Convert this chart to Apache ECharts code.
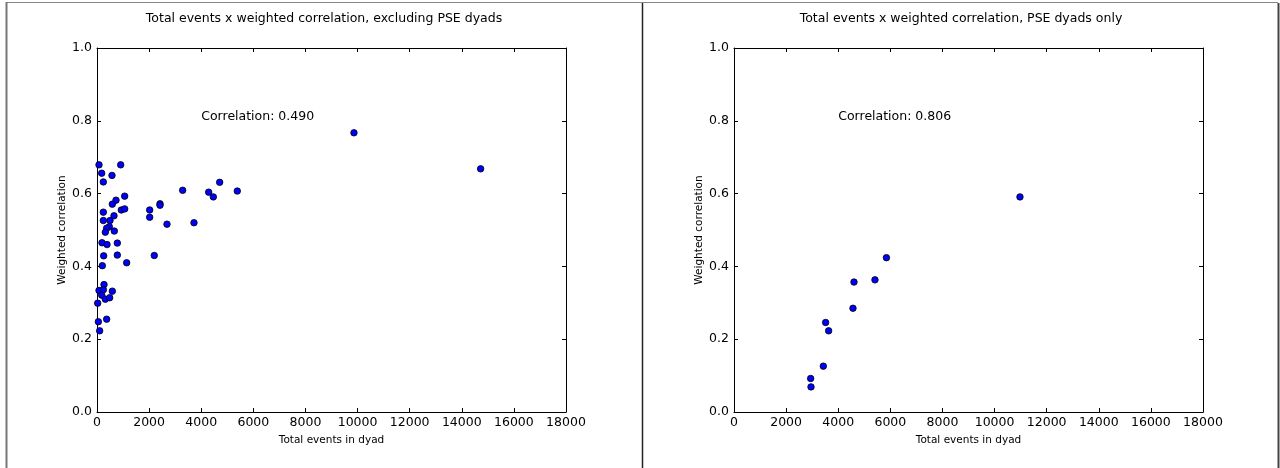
<!DOCTYPE html>
<html>
<head>
<meta charset="utf-8">
<title>Total events x weighted correlation</title>
<style>
  * { margin:0; padding:0; }
  body { background:#fff; }
  #chart { width:1280px; height:468px; }
</style>
</head>
<body>
<div id="chart"></div>
<script src="https://cdn.jsdelivr.net/npm/echarts@6/dist/echarts.min.js"></script>
<script>
// left panel: excluding PSE dyads
var leftEvents = [77, 909, 180, 576, 243, 1062, 729, 588, 933, 1062, 243, 652, 243, 499, 473, 371, 665, 320,
                  192, 780, 384, 256, 780, 1138, 205, 269, 77, 243, 180, 320, 487, 588, 26, 371, 51, 102,
                  3288, 4708, 4286, 4465, 5384, 2418, 2418, 2022, 2022, 2686, 3722, 2199, 9862, 14723];
var leftCorr = [0.679, 0.679, 0.656, 0.650, 0.632, 0.593, 0.582, 0.571, 0.555, 0.558, 0.549, 0.539, 0.526, 0.526, 0.509, 0.505, 0.497, 0.494,
                0.465, 0.464, 0.460, 0.429, 0.431, 0.410, 0.402, 0.350, 0.334, 0.336, 0.321, 0.310, 0.314, 0.332, 0.299, 0.255, 0.248, 0.223,
                0.609, 0.631, 0.604, 0.591, 0.607, 0.572, 0.568, 0.555, 0.535, 0.516, 0.520, 0.430, 0.767, 0.668];

// right panel: PSE dyads only
var rightEvents = [2942, 2955, 3428, 3517, 3632, 4566, 4605, 5410, 5850, 10975];
var rightCorr = [0.092, 0.069, 0.126, 0.246, 0.223, 0.285, 0.357, 0.363, 0.424, 0.591];

var xTicks = [0, 2000, 4000, 6000, 8000, 10000, 12000, 14000, 16000, 18000];
var yTicks = [0.0, 0.2, 0.4, 0.6, 0.8, 1.0];

var titles = ['Total events x weighted correlation, excluding PSE dyads', 'Total events x weighted correlation, PSE dyads only'];
var corrLabels = ['Correlation: 0.490', 'Correlation: 0.806'];

var FONT = 'DejaVu Sans';

function pairs(xs, ys) {
    var res = [];
    for (var i = 0; i < xs.length; i++) res.push([xs[i], ys[i]]);
    return res;
}

var grids = [
    {left: 97, right: 714, top: 48, bottom: 56},
    {left: 734, right: 77, top: 48, bottom: 56}
];

var xAxes = [], yAxes = [], series = [];
grids.forEach(function (g, i) {
    var base = {
        gridIndex: i, type: 'value',
        axisLine: {show: true, onZero: false, lineStyle: {color: '#000', width: 1}},
        axisTick: {show: true, inside: true, length: 4, lineStyle: {color: '#000'}},
        splitLine: {show: false}
    };
    xAxes.push(Object.assign({}, base, {
        position: 'bottom', min: xTicks[0], max: xTicks[xTicks.length - 1], interval: xTicks[1] - xTicks[0],
        name: 'Total events in dyad', nameLocation: 'middle', nameGap: 23,
        nameTextStyle: {fontFamily: FONT, fontSize: 10.5, color: '#000'},
        axisLabel: {fontFamily: FONT, fontSize: 12.5, color: '#000', margin: 4,
            formatter: function (v) { return String(v); }}
    }));
    xAxes.push(Object.assign({}, base, {
        position: 'top', min: xTicks[0], max: xTicks[xTicks.length - 1], interval: xTicks[1] - xTicks[0],
        axisLabel: {show: false}
    }));
    yAxes.push(Object.assign({}, base, {
        position: 'left', min: yTicks[0], max: yTicks[yTicks.length - 1], interval: 0.2,
        name: 'Weighted correlation', nameLocation: 'middle', nameGap: 29,
        nameTextStyle: {fontFamily: FONT, fontSize: 10.5, color: '#000'},
        axisLabel: {fontFamily: FONT, fontSize: 12.5, color: '#000', margin: 5,
            formatter: function (v) { return v.toFixed(1); }}
    }));
    yAxes.push(Object.assign({}, base, {
        position: 'right', min: yTicks[0], max: yTicks[yTicks.length - 1], interval: 0.2,
        axisLabel: {show: false}
    }));
});

function scatter(idx, xs, ys, label) {
    return {
        type: 'scatter', xAxisIndex: idx * 2, yAxisIndex: idx * 2,
        data: pairs(xs, ys), symbolSize: 6.5,
        itemStyle: {color: '#0000ff', borderColor: '#000', borderWidth: 0.8, opacity: 1},
        markPoint: {
            symbol: 'rect', symbolSize: 0,
            label: {show: true, position: 'right', distance: 0, offset: [0, 2], formatter: label,
                    fontFamily: FONT, fontSize: 12.5, color: '#000', verticalAlign: 'bottom', align: 'left'},
            data: [{coord: [4000, 0.8]}]
        }
    };
}
series.push(scatter(0, leftEvents, leftCorr, corrLabels[0]));
series.push(scatter(1, rightEvents, rightCorr, corrLabels[1]));

var chart = echarts.init(document.getElementById('chart'));
chart.setOption({
    animation: false,
    backgroundColor: '#fff',
    title: [
        {text: titles[0], left: 319, top: 7, textAlign: 'center',
         textStyle: {fontFamily: FONT, fontSize: 12.5, fontWeight: 'normal', color: '#000'}},
        {text: titles[1], left: 956, top: 7, textAlign: 'center',
         textStyle: {fontFamily: FONT, fontSize: 12.5, fontWeight: 'normal', color: '#000'}}
    ],
    grid: grids,
    xAxis: xAxes,
    yAxis: yAxes,
    series: series,
    graphic: [
        {type: 'line', shape: {x1: 6, y1: 2.5, x2: 1278, y2: 2.5}, style: {stroke: '#888', lineWidth: 1}},
        {type: 'line', shape: {x1: 6.5, y1: 2, x2: 6.5, y2: 468}, style: {stroke: '#777', lineWidth: 2}},
        {type: 'line', shape: {x1: 642.5, y1: 3, x2: 642.5, y2: 468}, style: {stroke: '#222', lineWidth: 1.5}},
        {type: 'line', shape: {x1: 1278.5, y1: 3, x2: 1278.5, y2: 468}, style: {stroke: '#444', lineWidth: 2}}
    ]
});
</script>
</body>
</html>
